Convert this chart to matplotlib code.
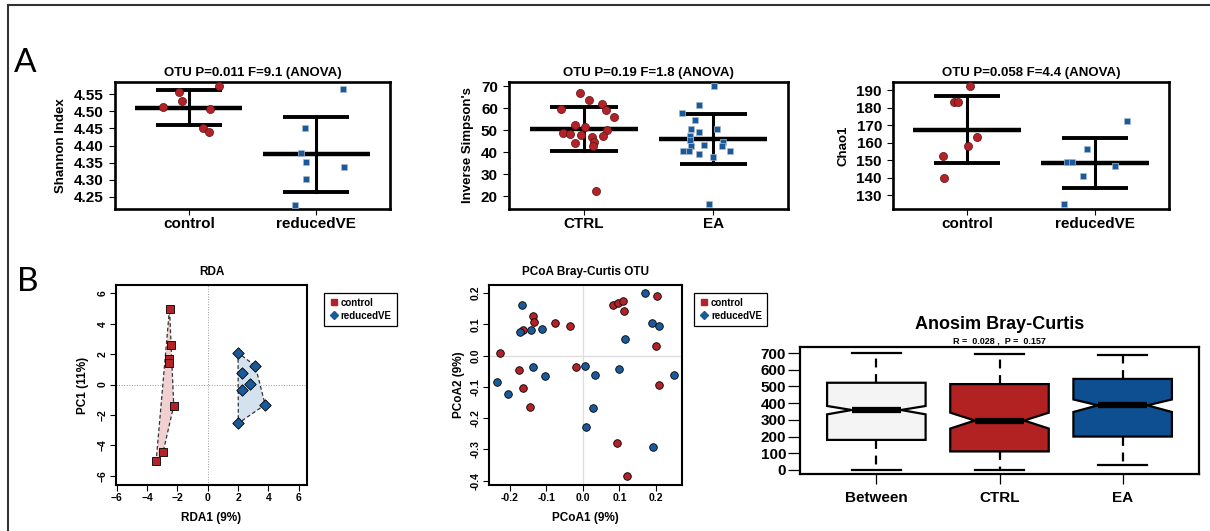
import numpy as np
import matplotlib
matplotlib.use("Agg")
import matplotlib.pyplot as plt
from matplotlib.lines import Line2D

plt.rcParams["font.family"] = ["Liberation Sans", "DejaVu Sans"]
plt.rcParams["font.weight"] = "bold"
plt.rcParams["axes.titleweight"] = "bold"
plt.rcParams["axes.labelweight"] = "bold"

RED = "#b22228"
BLUE = "#1b5a9a"

# ---- A: alpha diversity (values, jitter offsets, mean and SD bars) ----
shannon_groups = ["control", "reducedVE"]
shannon_ctrl = [4.558, 4.574, 4.530, 4.512, 4.506, 4.450, 4.440]
shannon_ctrl_jit = [-0.08, 0.24, -0.05, -0.20, 0.17, 0.11, 0.16]
shannon_red = [4.566, 4.451, 4.377, 4.352, 4.338, 4.302, 4.227]
shannon_red_jit = [0.21, -0.09, -0.12, -0.08, 0.22, -0.08, -0.17]
shannon_mean = [4.511, 4.374]
shannon_sd = [0.052, 0.109]

simpson_groups = ["CTRL", "EA"]
simpson_ctrl = [67.0, 63.6, 59.8, 62.0, 59.2, 56.1, 52.3, 51.4, 50.3, 48.8,
                48.3, 47.7, 47.0, 47.4, 44.8, 44.2, 43.0, 22.6]
simpson_ctrl_jit = [-0.03, 0.04, -0.18, 0.14, 0.17, 0.23, -0.07, 0.01, 0.18, -0.16,
                    -0.11, -0.02, 0.06, 0.15, 0.08, -0.07, 0.07, 0.09]
simpson_ea = [70.3, 61.7, 57.9, 54.7, 50.6, 49.5, 50.8, 47.6, 45.8, 43.0,
              43.3, 44.7, 43.0, 40.5, 40.5, 39.4, 40.5, 37.9, 16.5]
simpson_ea_jit = [0.01, -0.11, -0.24, -0.14, -0.17, -0.11, 0.03, -0.18, -0.18, -0.17,
                  -0.07, 0.08, 0.07, -0.23, -0.19, -0.11, 0.13, 0.00, -0.03]
simpson_mean = [50.6, 46.1]
simpson_sd = [10.0, 11.2]

chao_groups = ["control", "reducedVE"]
chao_ctrl = [192.3, 183.0, 183.0, 163.2, 158.1, 152.2, 139.9]
chao_ctrl_jit = [0.02, -0.10, -0.07, 0.08, 0.01, -0.19, -0.18]
chao_red = [172.2, 156.2, 149.0, 149.0, 146.9, 141.0, 124.9]
chao_red_jit = [0.25, -0.06, -0.22, -0.18, 0.16, -0.09, -0.24]
chao_mean = [167.5, 148.5]
chao_sd = [19.1, 14.3]

# ---- B: RDA ----
rda_ctrl_x = [-2.52, -2.43, -2.57, -2.57, -2.24, -2.94, -3.40]
rda_ctrl_y = [5.00, 2.59, 1.69, 1.45, -1.38, -4.43, -5.00]
rda_red_x = [2.00, 3.14, 2.28, 2.81, 2.28, 3.79, 2.02]
rda_red_y = [2.10, 1.23, 0.79, 0.04, -0.37, -1.32, -2.54]

# ---- B: PCoA ----
pcoa_ctrl_x = [0.203, 0.081, 0.095, 0.110, 0.112, -0.136, -0.134, -0.164, -0.076, -0.036,
               -0.228, 0.201, -0.020, -0.176, -0.165, 0.208, -0.144, 0.092, 0.120]
pcoa_ctrl_y = [0.191, 0.161, 0.170, 0.176, 0.143, 0.127, 0.107, 0.082, 0.106, 0.094,
               0.008, 0.031, -0.035, -0.046, -0.102, -0.093, -0.165, -0.280, -0.384]
pcoa_red_x = [0.170, -0.166, 0.190, 0.208, -0.173, -0.142, -0.113, 0.114, -0.137, -0.105,
              -0.235, -0.205, 0.006, 0.033, 0.099, 0.250, 0.028, 0.008, 0.191]
pcoa_red_y = [0.200, 0.162, 0.105, 0.095, 0.077, 0.082, 0.084, 0.054, -0.037, -0.066,
              -0.083, -0.124, -0.034, -0.063, -0.044, -0.061, -0.169, -0.229, -0.293]

# ---- B: Anosim ----
anosim_groups = ["Between", "CTRL", "EA"]
anosim_whislo = [0, 2, 32]
anosim_q1 = [180, 111, 200]
anosim_med = [359, 296, 387]
anosim_q3 = [522, 514, 545]
anosim_whishi = [700, 696, 690]
anosim_cilo = [333, 248, 347]
anosim_cihi = [383, 343, 422]
anosim_colors = ["#f4f4f4", "#b22222", "#0e4f91"]

W, H = 1210, 531
fig = plt.figure(figsize=(W / 100, H / 100), dpi=100)


def place(x0, y0, x1, y1):
    return fig.add_axes([x0 / W, 1 - y1 / H, (x1 - x0) / W, (y1 - y0) / H])


def frame(ax, lw):
    for sp in ax.spines.values():
        sp.set_linewidth(lw)


def hull(xs, ys):
    pts = sorted(zip(xs, ys))

    def cross(o, a, b):
        return (a[0] - o[0]) * (b[1] - o[1]) - (a[1] - o[1]) * (b[0] - o[0])

    lower, upper = [], []
    for p in pts:
        while len(lower) >= 2 and cross(lower[-2], lower[-1], p) <= 0:
            lower.pop()
        lower.append(p)
    for p in reversed(pts):
        while len(upper) >= 2 and cross(upper[-2], upper[-1], p) <= 0:
            upper.pop()
        upper.append(p)
    h = lower[:-1] + upper[:-1]
    return [p[0] for p in h], [p[1] for p in h]


def alpha_panel(ax, title, ylabel, groups, vals, jits, means, sds, ylim, yticks, fmt):
    for i in range(2):
        pos = i + 1
        x = pos + np.array(jits[i])
        if i == 0:
            ax.scatter(x, vals[i], s=34, c=RED, edgecolors="#5a1212", linewidths=0.5, zorder=3)
        else:
            ax.scatter(x, vals[i], s=25, marker="s", c=BLUE, edgecolors="#a8bad0",
                       linewidths=0.5, zorder=3)
        m, s = means[i], sds[i]
        ax.plot([pos - 0.42, pos + 0.42], [m, m], color="black", lw=3.2, solid_capstyle="butt", zorder=2)
        ax.plot([pos - 0.26, pos + 0.26], [m + s, m + s], color="black", lw=2.8, solid_capstyle="butt", zorder=2)
        ax.plot([pos - 0.26, pos + 0.26], [m - s, m - s], color="black", lw=2.8, solid_capstyle="butt", zorder=2)
        ax.plot([pos, pos], [m - s, m + s], color="black", lw=2.2, zorder=2)
    ax.set_xlim(0.42, 2.58)
    ax.set_ylim(*ylim)
    ax.set_xticks([1, 2])
    ax.set_xticklabels(groups)
    ax.set_yticks(yticks)
    ax.set_yticklabels([fmt.format(v) for v in yticks])
    ax.tick_params(axis="x", length=4, width=0.8, pad=2, labelsize=11)
    ax.tick_params(axis="y", length=4, width=0.8, pad=4, labelsize=11)
    ax.set_title(title, fontsize=9.5, pad=4)
    ax.set_ylabel(ylabel, fontsize=9.5, labelpad=5)
    frame(ax, 1.9)


ax1 = place(115, 82, 390, 209)
alpha_panel(ax1, "OTU P=0.011 F=9.1 (ANOVA)", "Shannon Index", shannon_groups,
            [shannon_ctrl, shannon_red], [shannon_ctrl_jit, shannon_red_jit],
            shannon_mean, shannon_sd, (4.214, 4.586), np.arange(4.25, 4.551, 0.05), "{:.2f}")

ax2 = place(509, 82, 788, 209)
alpha_panel(ax2, "OTU P=0.19 F=1.8 (ANOVA)", "Inverse Simpson's", simpson_groups,
            [simpson_ctrl, simpson_ea], [simpson_ctrl_jit, simpson_ea_jit],
            simpson_mean, simpson_sd, (14.3, 72.0), np.arange(20, 71, 10), "{:.0f}")

ax3 = place(893, 82, 1169, 209)
alpha_panel(ax3, "OTU P=0.058 F=4.4 (ANOVA)", "Chao1", chao_groups,
            [chao_ctrl, chao_red], [chao_ctrl_jit, chao_red_jit],
            chao_mean, chao_sd, (122.0, 194.7), np.arange(130, 191, 10), "{:.0f}")

# ---- RDA ----
ax4 = place(116, 285, 307, 485)
for xs, ys, fc in [(rda_ctrl_x, rda_ctrl_y, "#f0d0d0"), (rda_red_x, rda_red_y, "#d3e2ee")]:
    hx, hy = hull(xs, ys)
    ax4.fill(hx, hy, facecolor=fc, edgecolor="#333333", lw=0.9, ls=(0, (3, 2)), zorder=1)
ax4.axhline(0, color="#999999", lw=0.7, ls=":", zorder=0)
ax4.axvline(0, color="#999999", lw=0.7, ls=":", zorder=0)
ax4.scatter(rda_ctrl_x, rda_ctrl_y, s=26, marker="s", c=RED, edgecolors="black", linewidths=0.6,
            zorder=3, label="control")
ax4.scatter(rda_red_x, rda_red_y, s=34, marker="D", c=BLUE, edgecolors="black", linewidths=0.6,
            zorder=3, label="reducedVE")
ax4.set_xlim(-6.05, 6.55)
ax4.set_ylim(-6.6, 6.55)
ax4.set_xticks(np.arange(-6, 7, 2))
ax4.set_yticks(np.arange(-6, 7, 2))
ax4.set_title("RDA", fontsize=8.5, pad=7)
ax4.set_xlabel("RDA1 (9%)", fontsize=8.5, labelpad=6)
ax4.set_ylabel("PC1 (11%)", fontsize=8.5, labelpad=6)

# ---- PCoA ----
ax5 = place(489, 285, 682, 485)
ax5.axhline(0, color="#dddddd", lw=0.9, zorder=0)
ax5.axvline(0, color="#dddddd", lw=0.9, zorder=0)
ax5.scatter(pcoa_ctrl_x, pcoa_ctrl_y, s=30, c=RED, edgecolors="black", linewidths=0.6,
            zorder=3, label="control")
ax5.scatter(pcoa_red_x, pcoa_red_y, s=30, c=BLUE, edgecolors="black", linewidths=0.6,
            zorder=3, label="reducedVE")
ax5.set_xlim(-0.257, 0.271)
ax5.set_ylim(-0.414, 0.226)
ax5.set_xticks([-0.2, -0.1, 0.0, 0.1, 0.2])
ax5.set_yticks([-0.4, -0.3, -0.2, -0.1, 0.0, 0.1, 0.2])
ax5.set_xticklabels(["-0.2", "-0.1", "0.0", "0.1", "0.2"])
ax5.set_yticklabels(["-0.4", "-0.3", "-0.2", "-0.1", "0.0", "0.1", "0.2"])
ax5.set_title("PCoA Bray-Curtis OTU", fontsize=8.5, pad=7)
ax5.set_xlabel("PCoA1 (9%)", fontsize=8.5, labelpad=6)
ax5.set_ylabel("PCoA2 (9%)", fontsize=8.5, labelpad=4)

for ax, lx in [(ax4, 1.09), (ax5, 1.064)]:
    ax.tick_params(length=4, width=0.8, pad=2, labelsize=7.5)
    for lbl in ax.get_yticklabels():
        lbl.set_rotation(90)
        lbl.set_va("center")
    frame(ax, 1.5)
    handles = [
        Line2D([], [], ls="none", marker="s", ms=4.5, mfc=RED, mec=RED, label="control"),
        Line2D([], [], ls="none", marker="D", ms=4.5, mfc=BLUE, mec=BLUE, label="reducedVE"),
    ]
    leg = ax.legend(handles=handles, loc="upper left", bbox_to_anchor=(lx, 0.96),
                    borderaxespad=0, fancybox=False, framealpha=1, edgecolor="black",
                    prop={"size": 7, "weight": "bold"}, handletextpad=0.2,
                    handlelength=1.0, borderpad=0.5, labelspacing=0.3)
    leg.get_frame().set_linewidth(0.9)

# ---- Anosim ----
ax6 = place(800, 347, 1199, 474)
stats = []
for i in range(3):
    stats.append(dict(whislo=anosim_whislo[i], q1=anosim_q1[i], med=anosim_med[i],
                      q3=anosim_q3[i], whishi=anosim_whishi[i], cilo=anosim_cilo[i],
                      cihi=anosim_cihi[i], fliers=[]))
bp = ax6.bxp(stats, positions=[1, 2, 3], widths=0.8, capwidths=0.4, shownotches=True,
             patch_artist=True, showfliers=False,
             boxprops=dict(lw=1.6, edgecolor="black"),
             whiskerprops=dict(lw=1.6, ls=(0, (4, 3)), color="black"),
             capprops=dict(lw=1.6, color="black"),
             medianprops=dict(lw=4.5, color="black", solid_capstyle="butt"))
for patch, c in zip(bp["boxes"], anosim_colors):
    patch.set_facecolor(c)
ax6.set_xlim(0.38, 3.62)
ax6.set_ylim(-24, 736)
ax6.set_xticks([1, 2, 3])
ax6.set_xticklabels(anosim_groups)
ax6.set_yticks(np.arange(0, 701, 100))
ax6.tick_params(axis="x", length=7, width=0.9, pad=5, labelsize=11)
ax6.tick_params(axis="y", length=9, width=0.9, pad=1, labelsize=11)
ax6.set_title("Anosim Bray-Curtis", fontsize=13, pad=13)
ax6.text(0.5, 1.015, "R =  0.028 ,  P =  0.157", transform=ax6.transAxes, ha="center",
         va="bottom", fontsize=6.5)
frame(ax6, 1.6)

# panel letters and outer border
fig.text(25 / W, 1 - 63 / H, "A", fontsize=24, family="Lato", weight="normal", ha="center", va="center")
fig.text(28 / W, 1 - 282 / H, "B", fontsize=24, family="Lato", weight="normal", ha="center", va="center")
fig.add_artist(Line2D([8 / W, 1], [1 - 5 / H, 1 - 5 / H], transform=fig.transFigure,
                      color="#333333", lw=1.5))
fig.add_artist(Line2D([8 / W, 8 / W], [0, 1 - 5 / H], transform=fig.transFigure,
                      color="#333333", lw=1.5))

fig.savefig("out.png", dpi=100)
